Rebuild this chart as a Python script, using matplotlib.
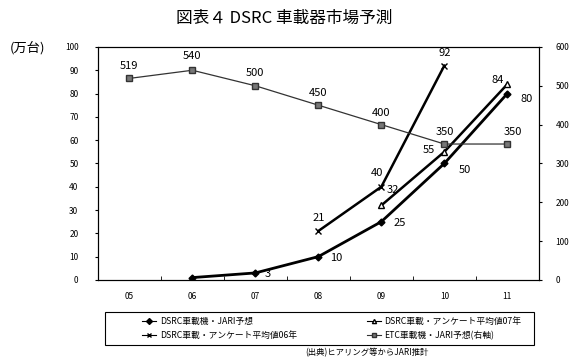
import matplotlib.pyplot as plt
from matplotlib.patches import Rectangle
import numpy as np

plt.rcParams['font.family'] = ['Noto Sans CJK JP', 'DejaVu Sans']

years = ["05", "06", "07", "08", "09", "10", "11"]
jari = [None, 1, 3, 10, 25, 50, 80]
survey07 = [None, None, None, None, 32, 55, 84]
survey06 = [None, None, None, 21, 40, 92, None]
etc = [519, 540, 500, 450, 400, 350, 350]

labels = ["DSRC車載機・JARI予想", "DSRC車載・アンケート平均値07年",
          "DSRC車載・アンケート平均値06年", "ETC車載機・JARI予想(右軸)"]


def xy(vals):
    xs = [i for i, v in enumerate(vals) if v is not None]
    ys = [v for v in vals if v is not None]
    return xs, ys


fig = plt.figure(figsize=(5.69, 3.64), dpi=100)
ax = fig.add_axes([0.172, 0.231, 0.775, 0.64])
ax2 = ax.twinx()

x, y = xy(jari)
h1, = ax.plot(x, y, color="black", lw=2, marker="D", ms=3.5, label=labels[0])
x, y = xy(survey07)
h2, = ax.plot(x, y, color="black", lw=1.8, marker="^", ms=4, mfc="white", label=labels[1])
x, y = xy(survey06)
h3, = ax.plot(x, y, color="black", lw=1.8, marker="x", ms=4, mew=1, label=labels[2])
x, y = xy(etc)
h4, = ax2.plot(x, y, color="#333333", lw=0.9, marker="s", ms=4.5, mfc="#777777",
               mec="#333333", label=labels[3])

# value labels (offsets in points)
fs = 8
etc_off = [(0, 9), (0, 10), (0, 9), (0, 9), (0, 8), (0, 9), (4, 9)]
for i, v in enumerate(etc):
    ax2.annotate(str(v), (i, v), xytext=etc_off[i], textcoords="offset points",
                 ha="center", va="center", fontsize=fs)
jari_off = {2: (9, -1), 3: (13, -1), 4: (13, -1), 5: (15, -5), 6: (14, -4)}
for i, (dx, dy) in jari_off.items():
    ax.annotate(str(jari[i]), (i, jari[i]), xytext=(dx, dy), textcoords="offset points",
                ha="center", va="center", fontsize=fs)
s07_off = {4: (8, 11), 5: (-11, 1), 6: (-7, 3)}
for i, (dx, dy) in s07_off.items():
    ax.annotate(str(survey07[i]), (i, survey07[i]), xytext=(dx, dy), textcoords="offset points",
                ha="center", va="center", fontsize=fs)
s06_off = {3: (0, 9), 4: (-3, 10), 5: (0, 9)}
for i, (dx, dy) in s06_off.items():
    ax.annotate(str(survey06[i]), (i, survey06[i]), xytext=(dx, dy), textcoords="offset points",
                ha="center", va="center", fontsize=fs)

ax.set_xlim(-0.5, 6.5)
ax.set_ylim(0, 100)
ax2.set_ylim(0, 600)
ax.set_yticks(range(0, 101, 10))
ax2.set_yticks(range(0, 601, 100))
ax.set_xticks(range(len(years)))
ax.set_xticklabels(years)
ax.set_xticks(np.arange(0.5, 6, 1), minor=True)
ax.tick_params(axis="x", which="major", length=0, labelsize=6, pad=9)
ax.tick_params(axis="x", which="minor", length=3, direction="in")
ax.tick_params(axis="y", labelsize=6, length=2, pad=12)
ax2.tick_params(axis="y", labelsize=6, length=2, pad=10)
for a in (ax, ax2):
    for s in a.spines.values():
        s.set_linewidth(0.8)

fig.text(0.5, 0.95, "図表４ DSRC 車載器市場予測", ha="center", va="center", fontsize=12)
fig.text(0.018, 0.868, "(万台)", ha="left", va="center", fontsize=9.5)

# legend box drawn by hand, entries without frame
fig.patches.append(Rectangle((0.1845, 0.052), 0.754, 0.091, transform=fig.transFigure,
                             fill=False, edgecolor="black", lw=0.8))
leg = fig.legend(handles=[h1, h3, h2, h4], loc="center left", bbox_to_anchor=(0.25, 0.0975),
                 ncol=2, fontsize=6.3, frameon=False, columnspacing=8, handlelength=1.6,
                 handletextpad=0.4, borderpad=0, labelspacing=0.5, borderaxespad=0)
for line in leg.get_lines():
    line.set_linewidth(0.8)
    line.set_markersize(3)
fig.text(0.536, 0.03, "(出典)ヒアリング等からJARI推計", ha="left", va="center", fontsize=6)

fig.savefig("out.png", dpi=100)
